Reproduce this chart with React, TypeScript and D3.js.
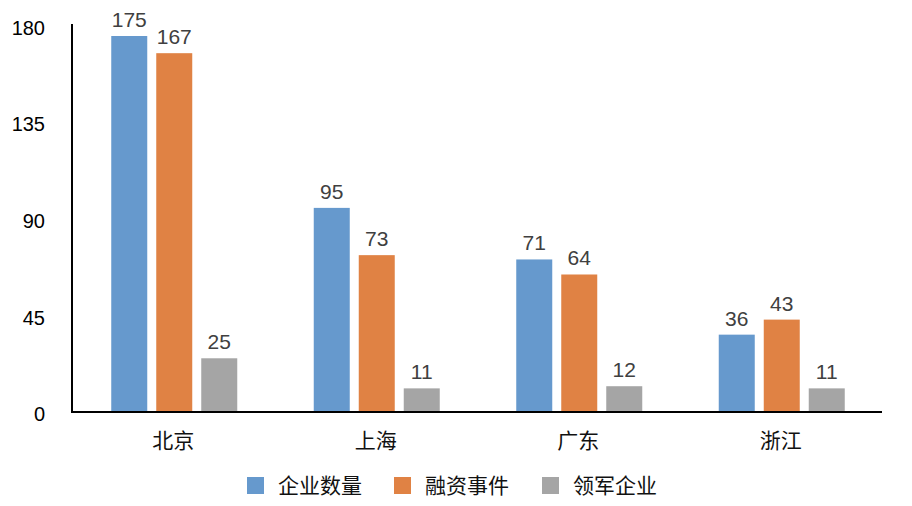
import * as d3 from "d3";
import React from "react";

const cities = ["北京", "上海", "广东", "浙江"];
const seriesNames = ["企业数量", "融资事件", "领军企业"];
const companies = [175, 95, 71, 36];
const fundings = [167, 73, 64, 43];
const leaders = [25, 11, 12, 11];
const yTicks = [0, 45, 90, 135, 180];

const colors = ["#6699cd", "#e08244", "#a5a5a5"];
const font = "'Helvetica Neue', Arial, 'Liberation Sans', 'Noto Sans CJK SC', sans-serif";

const width = 912;
const height = 506;
const margin = { top: 24, right: 30, bottom: 94, left: 72 };

const App = () => {
  const series = [companies, fundings, leaders];

  const x = d3
    .scaleBand()
    .domain(cities)
    .range([margin.left, width - margin.right]);

  // three bars of 36px, 9px apart, middle one centred on the category
  const inner = d3
    .scaleBand()
    .domain(seriesNames)
    .range([x.bandwidth() / 2 - 62, x.bandwidth() / 2 + 64])
    .paddingInner(0.2);

  const y = d3
    .scaleLinear()
    .domain([0, 175])
    .range([height - margin.bottom, 36]);

  const y0 = y(0);
  const legendX = [247, 394, 542];

  return (
    <svg
      width={width}
      height={height}
      style={{ position: "absolute", left: 0, top: 0, background: "#fff" }}
    >
      {/* bars + value labels */}
      {cities.map((c, i) => (
        <g key={c} transform={`translate(${x(c)},0)`}>
          {series.map((s, j) => (
            <g key={j}>
              <rect
                x={inner(seriesNames[j])}
                y={y(s[i])}
                width={inner.bandwidth()}
                height={y0 - y(s[i])}
                fill={colors[j]}
              />
              <text
                x={(inner(seriesNames[j]) || 0) + inner.bandwidth() / 2}
                y={y(s[i]) - 9}
                textAnchor="middle"
                fontSize={21}
                fontFamily={font}
                fill="#404040"
              >
                {s[i]}
              </text>
            </g>
          ))}
          <text
            x={x.bandwidth() / 2}
            y={y0 + 36}
            textAnchor="middle"
            fontSize={21}
            fontFamily={font}
            fill="#111"
          >
            {c}
          </text>
        </g>
      ))}

      {/* axes */}
      <line x1={margin.left} x2={margin.left} y1={margin.top} y2={y0} stroke="#000" strokeWidth={2} />
      <line x1={margin.left - 1} x2={width - margin.right} y1={y0} y2={y0} stroke="#000" strokeWidth={2} />
      {yTicks.map((t) => (
        <text
          key={t}
          x={45}
          y={y(t) + 4}
          textAnchor="end"
          dominantBaseline="middle"
          fontSize={20}
          fontFamily={font}
          fill="#000"
        >
          {t}
        </text>
      ))}

      {/* legend */}
      {seriesNames.map((n, j) => (
        <g key={n}>
          <rect x={legendX[j]} y={477} width={17} height={17} fill={colors[j]} />
          <text
            x={legendX[j] + 31}
            y={487}
            dominantBaseline="middle"
            fontSize={21}
            fontFamily={font}
            fill="#111"
          >
            {n}
          </text>
        </g>
      ))}
    </svg>
  );
};

export default App;
